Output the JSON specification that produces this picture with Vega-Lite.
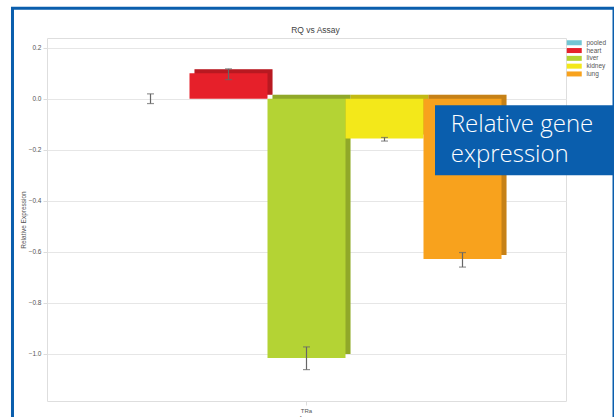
{
  "$schema": "https://vega.github.io/schema/vega-lite/v6.json",
  "width": 519,
  "height": 363,
  "autosize": {"type": "none"},
  "padding": {"left": 47, "top": 38, "right": 48, "bottom": 16},
  "background": "white",
  "config": {
    "font": "Liberation Sans",
    "view": {"stroke": "#dedede", "strokeWidth": 1}
  },
  "title": {
    "text": "RQ vs Assay",
    "fontSize": 8.5,
    "fontWeight": "normal",
    "color": "#444",
    "offset": 4,
    "dy": 32,
    "dx": 9,
    "anchor": "middle"
  },
  "datasets": {
    "rq": [
      {"assay": "TRa", "sample": "pooled", "rq": 0.0, "lo": -0.019, "hi": 0.019},
      {"assay": "TRa", "sample": "heart", "rq": 0.1, "lo": 0.075, "hi": 0.117},
      {"assay": "TRa", "sample": "liver", "rq": -1.016, "lo": -1.062, "hi": -0.973},
      {"assay": "TRa", "sample": "kidney", "rq": -0.156, "lo": -0.166, "hi": -0.152},
      {"assay": "TRa", "sample": "lung", "rq": -0.628, "lo": -0.66, "hi": -0.603}
    ],
    "note": [
      {"note": "Relative gene\nexpression"}
    ]
  },
  "layer": [
    {
      "data": {"name": "rq"},
      "encoding": {
        "x": {
          "field": "assay",
          "type": "nominal",
          "title": "Assay",
          "scale": {"paddingInner": 0, "paddingOuter": 0.1654},
          "axis": {
            "labelAngle": 0,
            "labelFontSize": 6,
            "labelColor": "#555",
            "titleFontSize": 6,
            "titleColor": "#666",
            "titleFontWeight": "normal",
            "titlePadding": 1,
            "domain": false,
            "ticks": true,
            "tickSize": 4,
            "tickColor": "#dcdcdc",
            "labelPadding": 2,
            "grid": false
          }
        }
      },
      "layer": [
        {
          "mark": {"type": "bar", "yOffset": -4},
          "encoding": {
            "xOffset": {
              "field": "sample",
              "type": "nominal",
              "sort": ["pooled", "heart", "liver", "kidney", "lung"],
              "scale": {"paddingInner": 0, "paddingOuter": 0, "range": [5, 395]}
            },
            "y": {"field": "rq", "type": "quantitative"},
            "color": {"field": "sample", "type": "nominal"}
          }
        },
        {
          "mark": {"type": "bar", "yOffset": -4, "color": "black", "opacity": 0.2},
          "encoding": {
            "xOffset": {
              "field": "sample",
              "type": "nominal",
              "sort": ["pooled", "heart", "liver", "kidney", "lung"],
              "scale": {"paddingInner": 0, "paddingOuter": 0, "range": [5, 395]}
            },
            "y": {"field": "rq", "type": "quantitative"}
          }
        },
        {
          "encoding": {
            "xOffset": {
              "field": "sample",
              "type": "nominal",
              "sort": ["pooled", "heart", "liver", "kidney", "lung"],
              "scale": {"paddingInner": 0, "paddingOuter": 0}
            }
          },
          "layer": [
            {
              "mark": {"type": "bar"},
              "encoding": {
                "y": {
                  "field": "rq",
                  "type": "quantitative",
                  "title": "Relative Expression",
                  "scale": {"domain": [-1.185, 0.238], "nice": false, "zero": false},
                  "axis": {
                    "values": [0.2, 0.0, -0.2, -0.4, -0.6, -0.8, -1.0],
                    "format": ".1f",
                    "labelFontSize": 6.5,
                    "labelColor": "#555",
                    "labelPadding": 2,
                    "titleFontSize": 6.5,
                    "titleFontWeight": "normal",
                    "titleColor": "#555",
                    "titlePadding": 2,
                    "domain": false,
                    "tickSize": 4,
                    "tickColor": "#dcdcdc",
                    "gridColor": "#e6e6e6"
                  }
                },
                "color": {
                  "field": "sample",
                  "type": "nominal",
                  "title": null,
                  "scale": {
                    "domain": ["pooled", "heart", "liver", "kidney", "lung"],
                    "range": ["#72c6d4", "#e6202a", "#b4d334", "#f3e81a", "#f8a21d"]
                  },
                  "legend": {
                    "orient": "none",
                    "legendX": 524,
                    "legendY": 1.5,
                    "symbolType": "M-3,-1H3V1H-3Z",
                    "symbolSize": 25,
                    "symbolStrokeWidth": 0,
                    "labelOffset": 9,
                    "labelFontSize": 6.5,
                    "labelColor": "#555",
                    "rowPadding": 0.8
                  }
                }
              }
            },
            {
              "mark": {"type": "rule", "color": "#666", "strokeWidth": 1.2},
              "encoding": {
                "y": {"field": "lo", "type": "quantitative"},
                "y2": {"field": "hi"}
              }
            },
            {
              "mark": {"type": "tick", "color": "#666", "size": 7, "thickness": 1.2},
              "encoding": {
                "y": {"field": "lo", "type": "quantitative"}
              }
            },
            {
              "mark": {"type": "tick", "color": "#666", "size": 7, "thickness": 1.2},
              "encoding": {
                "y": {"field": "hi", "type": "quantitative"}
              }
            }
          ]
        }
      ],
      "resolve": {"scale": {"xOffset": "independent"}}
    },
    {
      "data": {"name": "note"},
      "layer": [
        {
          "mark": {"type": "rect", "fill": "#0a5ead", "clip": false},
          "encoding": {
            "x": {"datum": 0.7476, "type": "quantitative", "scale": {"domain": [0, 1]}, "axis": null},
            "x2": {"datum": 1.2},
            "y": {"datum": -0.026, "type": "quantitative"},
            "y2": {"datum": -0.300}
          }
        },
        {
          "mark": {
            "type": "text",
            "align": "left",
            "baseline": "alphabetic",
            "lineBreak": "\n",
            "lineHeight": 30,
            "font": "Open Sans",
            "fontWeight": 300,
            "fontSize": 24,
            "color": "white"
          },
          "encoding": {
            "x": {"datum": 0.778, "type": "quantitative"},
            "y": {"datum": -0.132, "type": "quantitative"},
            "text": {"field": "note"}
          }
        },
        {
          "mark": {"type": "rect", "fill": null, "stroke": "#0a5ead", "strokeWidth": 3, "clip": false},
          "encoding": {
            "x": {"datum": -0.0665, "type": "quantitative"},
            "x2": {"datum": 1.0925},
            "y": {"datum": 0.355, "type": "quantitative"},
            "y2": {"datum": -2}
          }
        }
      ]
    }
  ],
  "resolve": {"scale": {"x": "independent"}}
}
